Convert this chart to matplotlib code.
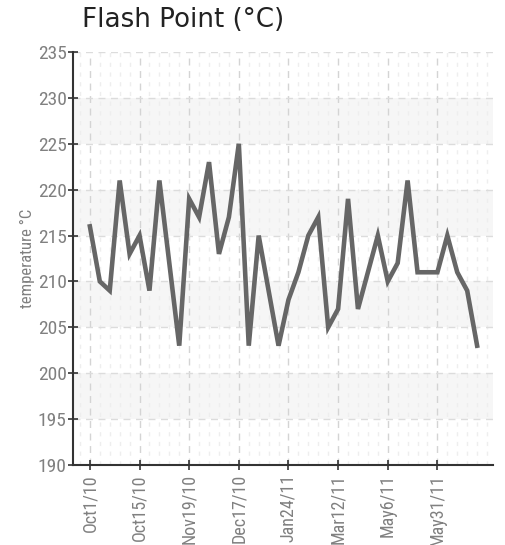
import matplotlib.pyplot as plt
import matplotlib.ticker as mticker
from matplotlib import font_manager

# flash point readings, one per sample
values = [216, 210, 209, 221, 213, 215, 209, 221, 212, 203,
          219, 217, 223, 213, 217, 225, 203, 215, 209, 203,
          208, 211, 215, 217, 205, 207, 219, 207, 211, 215,
          210, 212, 221, 211, 211, 211, 215, 211, 209, 203]
tick_labels = ['Oct1/10', 'Oct15/10', 'Nov19/10', 'Dec17/10',
               'Jan24/11', 'Mar12/11', 'May6/11', 'May31/11']
tick_index = [0, 5, 10, 15, 20, 25, 30, 35]

# look for a narrow font, otherwise condensed DejaVu
names = {f.name for f in font_manager.fontManager.ttflist}
narrow = None
for n in ['Liberation Sans Narrow', 'DejaVu Sans Condensed', 'Roboto Condensed']:
    if n in names:
        narrow = n
        break
if narrow:
    tick_font = dict(family=narrow)
else:
    tick_font = dict(family='DejaVu Sans', stretch='condensed')

fig = plt.figure(figsize=(5.06, 5.45), dpi=100)
ax = fig.add_axes([73 / 506, 80 / 545, 420 / 506, 413 / 545])

# alternating light bands
for lo in range(195, 235, 10):
    ax.axhspan(lo, lo + 5, color='#f6f6f6', zorder=0, lw=0)

x = list(range(len(values)))
ax.plot(x, values, color='#666666', lw=3.3, solid_joinstyle='miter', zorder=3)

ax.set_xlim(-1.7, 40.6)
ax.set_ylim(190, 235)
ax.set_yticks(range(190, 236, 5))
ax.set_xticks(tick_index)
ax.set_xticklabels(tick_labels, rotation=90, fontsize=13, color='#808080', **tick_font)
for t in ax.get_yticklabels():
    t.set_fontproperties(font_manager.FontProperties(size=14, **tick_font))
ax.xaxis.set_minor_locator(mticker.MultipleLocator(1))
ax.tick_params(axis='y', labelcolor='#808080', direction='inout',
               length=7, width=1.2, color='#333333', pad=1)
ax.tick_params(axis='x', which='major', direction='inout', length=7, width=1.2,
               color='#333333', pad=3)
ax.tick_params(axis='x', which='minor', length=0)

ax.grid(True, axis='y', ls=(0, (5, 4)), color='#dcdcdc', lw=1, zorder=1)
ax.grid(True, axis='x', which='major', ls=(0, (5, 4)), color='#d4d4d4', lw=1, zorder=1)
ax.grid(True, axis='x', which='minor', ls=(0, (3, 4)), color='#eeeeee', lw=1, zorder=1)

for s in ['top', 'right']:
    ax.spines[s].set_visible(False)
ax.spines['left'].set_color('#333333')
ax.spines['bottom'].set_color('#333333')
ax.spines['left'].set_linewidth(1.5)
ax.spines['bottom'].set_linewidth(1.5)

ax.set_ylabel('temperature \u00b0C', fontsize=12, color='#808080', labelpad=2, **tick_font)

fig.text(82 / 506, 1 - 20 / 545, 'Flash Point (\u00b0C)', fontsize=18.8,
         family='DejaVu Sans', color='#222222', va='center', ha='left')

fig.savefig('out.png', dpi=100)
